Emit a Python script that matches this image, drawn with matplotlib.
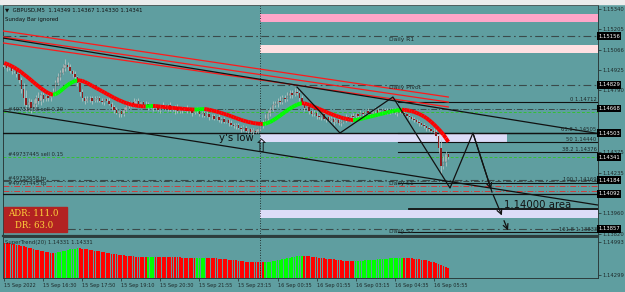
import numpy as np
import matplotlib.pyplot as plt
from matplotlib.patches import Rectangle
from matplotlib.collections import LineCollection

W, H = 625, 292
BG = '#5f9ea0'

# --- data: GBPUSD M5, one bar = 5 min, first bar 15 Sep 15:10 ---
# closes in pips above 1.14000
close_pips = [96, 94, 95, 92, 93, 90,
              86, 80, 74, 69, 71, 67,
              70, 74, 72, 76, 73,
              75, 74, 76, 78,
              84, 88, 91, 94, 96, 95,
              92, 90, 88, 84, 78, 74, 72,
              73, 74, 72, 73, 74, 72, 71, 73, 72, 70,
              68, 66, 64, 65, 63, 66,
              68, 70, 71, 69, 72, 70, 71, 69, 70,
              68, 69, 67, 68, 66, 69, 68, 67, 69, 66, 67, 68, 65, 67,
              66, 67, 65, 66, 64, 66, 65, 63,
              64, 62, 63, 61, 62, 60, 61, 59, 60, 58, 59, 57, 56,
              55, 56, 54, 53, 54, 52, 53, 51, 52, 51, 53, 55,
              57, 60, 64, 66, 69, 70, 72, 71, 74, 73, 75, 77, 76, 78, 77,
              74, 70, 67, 68, 65, 63, 64, 62, 61, 63, 60, 61, 59, 60, 58, 59, 57, 58,
              59, 61, 60, 62, 61, 63, 62, 64, 63, 65, 64, 63, 65, 66, 64, 65, 66, 65, 64, 66, 65, 64,
              65, 66, 64, 63, 62, 61, 60, 59, 58, 57, 56, 55, 54, 53, 52, 51,
              48, 40, 28, 31, 36, 34.1]
first_open = 95
wick_up = [2, 1, 2, 1, 2, 1, 3, 2, 4, 5, 3, 2,
           3, 2, 4, 2, 2, 1, 2, 2, 3, 2, 3, 2,
           3, 4, 2, 2, 1, 2, 1, 1, 2, 1, 2, 1,
           1, 2, 1, 1, 2, 1, 1, 2, 1, 1, 2, 1,
           1, 2, 1, 2, 1, 3, 1, 2, 1, 1, 2, 1,
           1, 1, 2, 1, 1, 2, 1, 1, 2, 1, 1, 2,
           1, 1, 1, 2, 1, 1, 1, 2, 1, 1, 1, 2,
           1, 1, 1, 1, 2, 1, 1, 1, 1, 2, 1, 1,
           1, 1, 2, 1, 1, 1, 2, 1, 1, 2, 2, 3,
           2, 2, 3, 2, 2, 3, 2, 2, 3, 2, 2, 3,
           3, 2, 2, 1, 2, 1, 1, 2, 1, 1, 1, 2,
           1, 1, 2, 1, 1, 2, 1, 1, 2, 1, 1, 2,
           1, 1, 2, 1, 1, 2, 1, 1, 2, 1, 1, 1,
           1, 2, 1, 1, 2, 1, 1, 1, 2, 1, 1, 1,
           1, 1, 1, 1, 1, 1, 1, 1, 2, 3, 2, 6,
           4, 2, 1]
wick_dn = [1, 2, 1, 2, 1, 2, 2, 3, 5, 4, 4, 3,
           2, 4, 2, 3, 2, 1, 2, 2, 1, 2, 1, 2,
           1, 2, 2, 1, 2, 2, 2, 3, 2, 2, 1, 2,
           2, 1, 2, 1, 1, 2, 1, 1, 2, 2, 1, 3,
           2, 1, 1, 1, 2, 1, 1, 1, 2, 1, 1, 2,
           1, 2, 1, 1, 2, 1, 1, 2, 1, 1, 4, 1,
           1, 2, 1, 1, 1, 2, 1, 1, 1, 2, 1, 1,
           2, 1, 1, 1, 1, 2, 1, 1, 2, 1, 1, 2,
           1, 2, 1, 1, 2, 1, 2, 1, 1, 1, 1, 1,
           1, 2, 1, 1, 2, 1, 1, 2, 1, 1, 2, 1,
           1, 2, 1, 2, 1, 2, 1, 1, 2, 1, 2, 1,
           2, 1, 1, 2, 1, 1, 2, 1, 1, 1, 2, 1,
           1, 2, 1, 1, 1, 2, 1, 1, 1, 2, 1, 1,
           2, 1, 1, 1, 1, 2, 1, 1, 1, 1, 2, 1,
           1, 1, 2, 1, 1, 2, 1, 1, 1, 2, 3, 6,
           2, 3, 1]
# trend line (slope coloured), pips above 1.14000
trend_pips = [97.5, 97, 96.3, 95.5, 94.6, 93.6, 92.5, 91.3, 90, 88.7, 87.4, 86, 84.6, 83.2,
              81.9, 80.6, 79.4, 78.3, 77.3, 76.6, 76.2,
              76.5, 77.4, 78.6, 80, 81.4, 82.7, 83.8, 84.7, 85.4, 85.9,
              85.8, 85.4, 84.8, 84, 83.1, 82.2, 81.3, 80.4, 79.5, 78.6, 77.7, 76.8, 75.9, 75,
              74.1, 73.3, 72.5, 71.8, 71.1, 70.5, 70, 69.5, 69.1, 68.8, 68.6, 68.4, 68.3, 68.2,
              68.3, 68.5, 68.6,
              68.5, 68.3, 68.1, 67.9, 67.8, 67.6, 67.4, 67.3, 67.1, 67, 66.8, 66.7, 66.5, 66.4,
              66.3, 66.2, 66.1,
              66.2, 66.3, 66.4, 66.5,
              66.3, 66, 65.6, 65.2, 64.8, 64.3, 63.8, 63.3, 62.8, 62.2, 61.6, 61, 60.4, 59.8,
              59.2, 58.7, 58.2, 57.8, 57.4, 57.1, 56.8, 56.6, 56.5, 56.4,
              56.6, 57.1, 57.8, 58.7, 59.7, 60.8, 62, 63.2, 64.4, 65.6, 66.7, 67.7, 68.6, 69.4,
              70, 70.4,
              70.3, 69.9, 69.3, 68.7, 68, 67.3, 66.6, 65.9, 65.2, 64.5, 63.8, 63.1, 62.5, 61.9,
              61.3, 60.8, 60.3, 59.9, 59.5, 59.2, 59,
              59.1, 59.4, 59.8, 60.2, 60.6, 61, 61.4, 61.8, 62.2, 62.6, 63, 63.4, 63.8, 64.2,
              64.6, 65, 65.3, 65.6, 65.8, 66,
              65.9, 65.7, 65.4, 65, 64.5, 63.9, 63.2, 62.4, 61.5, 60.4, 59.2, 57.8, 56.3, 54.7,
              53, 51.2, 49.2, 46.9, 44.3]

time_ticks = [0, 16, 32, 48, 64, 80, 96, 112, 128, 144, 160, 176]
time_labels = ['15 Sep 2022', '15 Sep 16:30', '15 Sep 17:50', '15 Sep 19:10', '15 Sep 20:30',
               '15 Sep 21:55', '15 Sep 23:15', '16 Sep 00:35', '16 Sep 01:55', '16 Sep 03:15',
               '16 Sep 04:35', '16 Sep 05:55']
day_start = 105

price_ticks = [1.15340, 1.15205, 1.15066, 1.14925, 1.14790, 1.14375, 1.14235, 1.13960, 1.13820]
boxed_prices = [1.15156, 1.14829, 1.14668, 1.14503, 1.14341, 1.14184, 1.14092, 1.13857]
ind_ticks = [1.14993, 1.14299]

# pivot levels (dash-dot) and labels
pivots = {'Daily R1': 1.15156, 'Daily Pivot': 1.14829, 'Daily S1': 1.14184, 'Daily S2': 1.13857}
# zones from day start
pink_zone = (1.15252, 1.15306)
light_pink_zone = (1.15043, 1.15097)
lav_zone_1 = (1.14442, 1.14503, 206)     # low, high, end bar
lav_zone_2 = (1.13929, 1.13983)
ys_low = 1.14503
area_line = (166, 1.13990)
# orders
orders = [('#49733658 sell 0.20', 1.14645, '#35c035', (0, (3, 2))),
          ('#49737445 sell 0.15', 1.14341, '#35c035', (0, (3, 2))),
          ('#49733658 tp', 1.14179, '#3a4a4a', (0, (6, 2, 1, 2))),
          ('#49737445 tp', 1.14145, '#d03a3a', (0, (6, 2, 1, 2)))]
extra_dashdot = [(1.14668, '#3a4a4a'), (1.14112, '#d03a3a')]
solid_level = 1.14092
# fibo
fib_start = 161.4
fib_levels = [('0', 1.14712), ('61.8', 1.14505), ('50', 1.14440), ('38.2', 1.14376),
              ('100', 1.14169), ('-161.8', 1.13833)]
# trend lines
upper_tl = ([-0.5, 243.3], [1.15144, 1.14500])
lower_tl = ([-0.5, 243.3], [1.14652, 1.14017])
red_tls = [([-0.5, 182], [1.15192, 1.14746]),
           ([-0.5, 182], [1.15151, 1.14712]),
           ([-0.5, 182], [1.15111, 1.14679])]
zig_x = [120, 137.6, 159.3, 182.7, 192.1, 199.9]
zig_p = [1.14813, 1.14503, 1.14746, 1.14132, 1.14503, 1.14105]
arrow_x = [199.9, 204.4, 206.9]
arrow_p = [1.14105, 1.13929, 1.13828]

# ---------------------------------------------------------------
def fx(px):
    return px / W

def fy(py):
    return 1 - py / H

fig = plt.figure(figsize=(W / 100, H / 100), dpi=100, facecolor=BG)
fig.patches.append(Rectangle((0, fy(4)), 1, 4 / H, transform=fig.transFigure,
                             color='#ececec', zorder=0))

ax = fig.add_axes([fx(3), fy(236), 595 / W, 231 / H])
ax2 = fig.add_axes([fx(3), fy(278), 595 / W, 41 / H])
for a in (ax, ax2):
    a.set_facecolor(BG)
    a.set_xlim(-0.5, 243.35)
    for s in a.spines.values():
        s.set_color('#2c3c3c')
        s.set_linewidth(0.7)
ax.spines['bottom'].set_linewidth(1.6)
ax.set_ylim(1.13808, 1.15367)
ax2.set_ylim(1.14236, 1.15098)

n = len(close_pips)
xi = np.arange(n)
c = 1.14 + np.array(close_pips) / 1e4
o = 1.14 + np.array([first_open] + close_pips[:-1]) / 1e4
hi = np.maximum(o, c) + np.array(wick_up) / 1e4
lo = np.minimum(o, c) - np.array(wick_dn) / 1e4
tr = 1.14 + np.array(trend_pips) / 1e4

# zones
ax.add_patch(Rectangle((day_start, pink_zone[0]), 300, pink_zone[1] - pink_zone[0],
                       color='#ffa6c9', lw=0, zorder=1))
ax.add_patch(Rectangle((day_start, light_pink_zone[0]), 300, light_pink_zone[1] - light_pink_zone[0],
                       color='#ffe0e2', lw=0, zorder=1))
ax.add_patch(Rectangle((day_start, lav_zone_1[0]), lav_zone_1[2] - day_start,
                       lav_zone_1[1] - lav_zone_1[0], color='#dcdcf8', lw=0, zorder=1))
ax.add_patch(Rectangle((day_start, lav_zone_2[0]), 300, lav_zone_2[1] - lav_zone_2[0],
                       color='#dcdcf8', lw=0, zorder=1))

# pivots
for name, p in pivots.items():
    ax.axhline(p, color='#3a4a4a', lw=0.8, ls=(0, (7, 3, 1.5, 3)), zorder=2)
    ax.text(157.8, p - 0.00005, name, fontsize=4.3, color='#1e2a2a', va='top', zorder=6)

# orders
for label, p, col, ls in orders:
    ax.axhline(p, color=col, lw=0.7, ls=ls, zorder=2)
    ax.text(1.5, p + 0.00002, label, fontsize=3.8, color='#1e2a2a', va='bottom', zorder=6)
for p, col in extra_dashdot:
    ax.axhline(p, color=col, lw=0.7, ls=(0, (6, 2, 1, 2)), zorder=2)
ax.axhline(solid_level, color='#111111', lw=0.9, zorder=3)
ax.axhline(ys_low, color='#111111', lw=1.0, zorder=3)
ax.plot([area_line[0], 243.35], [area_line[1]] * 2, color='#111111', lw=1.3, zorder=3)

# fibo
for lvl, p in fib_levels:
    ax.plot([fib_start, 243.35], [p, p], color='#111111', lw=0.8, zorder=3)
    ax.text(242.8, p + 0.00002, f'{lvl} {p:.5f}', fontsize=3.8, color='#1e2a2a',
            ha='right', va='bottom', zorder=6)

# trend lines
for xs, ps in red_tls:
    ax.plot(xs, ps, color='#ff1a1a', lw=0.9, zorder=3)
ax.plot(*upper_tl, color='#111111', lw=0.9, zorder=3)
ax.plot(*lower_tl, color='#111111', lw=0.9, zorder=3)

# candles
up = c >= o
ax.vlines(xi, lo, hi, color='#c2cbcb', lw=0.5, zorder=4)
ax.bar(xi[up], (c - o)[up] + 0.000004, bottom=o[up], width=0.6, color='#b9c3c3',
       edgecolor='#3a4444', lw=0.2, zorder=5)
ax.bar(xi[~up], (c - o)[~up], bottom=o[~up], width=0.6, color='#8e1c1c', lw=0, zorder=5)

# slope coloured trend line
rising = np.r_[False, np.diff(tr) > 0]
seg = np.stack([np.c_[xi[:-1], tr[:-1]], np.c_[xi[1:], tr[1:]]], axis=1)
seg_col = np.where(np.diff(tr) > 0, '#00ff00', '#ff0000')
ax.add_collection(LineCollection(seg, colors=seg_col, linewidths=2.8, zorder=6,
                                 capstyle='butt'))

# zigzag with arrows
ax.plot(zig_x, zig_p, color='#111111', lw=0.9, zorder=7)
ax.annotate('', xy=(zig_x[-1], zig_p[-1]), xytext=(zig_x[-2], zig_p[-2]),
            arrowprops=dict(arrowstyle='->', color='#111111', lw=0.9, mutation_scale=9))
for k in range(1, len(arrow_x)):
    ax.annotate('', xy=(arrow_x[k], arrow_p[k]), xytext=(arrow_x[k - 1], arrow_p[k - 1]),
                arrowprops=dict(arrowstyle='->', color='#111111', lw=0.9, mutation_scale=9))

# text annotations
ax.text(95, 1.14470, "y's low", fontsize=7.3, color='#111111', ha='center', va='center',
        zorder=8)
ax.text(105.5, 1.14410, '\u21e7', fontsize=13, color='#111111', ha='center', va='center',
        zorder=8)
ax.text(205, 1.14015, '1.14000 area', fontsize=7.3, color='#111111', ha='left',
        va='center', zorder=8)

ax.axvline(day_start, color='#111111', lw=0.6, ls=(0, (1, 2)), zorder=2)
ax2.axvline(day_start, color='#111111', lw=0.6, ls=(0, (1, 2)), zorder=2)

# price axis
ax.yaxis.tick_right()
ax.set_yticks(price_ticks)
ax.set_yticklabels([f'{p:.5f}' for p in price_ticks])
ax.tick_params(axis='y', length=2, width=0.5, colors='#1e2a2a', labelsize=3.8, pad=1.5)
ax.set_xticks([])
for p in boxed_prices:
    ax.text(1.0, p, f'{p:.5f}', transform=ax.get_yaxis_transform(), fontsize=3.8,
            color='white', va='center', ha='left', zorder=9, clip_on=False,
            bbox=dict(boxstyle='square,pad=0.25', fc='black', ec='black', lw=0))

# indicator panel
dcol = np.where(rising, '#00ff00', '#ff0000')
ax2.bar(xi, tr - 1.14236, bottom=1.14236, width=0.75, color=dcol, lw=0)
ax2.yaxis.tick_right()
ax2.set_yticks(ind_ticks)
ax2.set_yticklabels([f'{p:.5f}' for p in ind_ticks])
ax2.tick_params(axis='y', length=2, width=0.5, colors='#1e2a2a', labelsize=3.8, pad=1.5)
ax2.set_xticks(time_ticks)
ax2.set_xticklabels(time_labels, ha='left')
ax2.tick_params(axis='x', length=2.5, width=0.5, colors='#1e2a2a', labelsize=3.6, pad=1)
ax2.text(0.004, 0.93, f'SuperTrend(20) {1.14331:.5f} {1.14331:.5f}', transform=ax2.transAxes,
         fontsize=3.8, color='#1e2a2a', va='top')

# header
fig.text(fx(5), fy(10), '\u25bc  GBPUSD,M5  1.14349 1.14367 1.14330 1.14341', fontsize=3.9,
         color='#111111', va='center')
fig.text(fx(5), fy(19), 'Sunday Bar ignored', fontsize=3.9, color='#111111', va='center')

# ADR box
fig.patches.append(Rectangle((fx(4), fy(232)), 63 / W, 25 / H, transform=fig.transFigure,
                             color='#b22222', zorder=10))
fig.text(fx(8), fy(214), 'ADR: 111.0', fontsize=6.2, color='#ffd43a', va='center',
         family='DejaVu Serif', zorder=11)
fig.text(fx(15), fy(225), 'DR: 63.0', fontsize=6.2, color='#ffd43a', va='center',
         family='DejaVu Serif', zorder=11)

fig.savefig('out.png', dpi=100, facecolor=BG)
